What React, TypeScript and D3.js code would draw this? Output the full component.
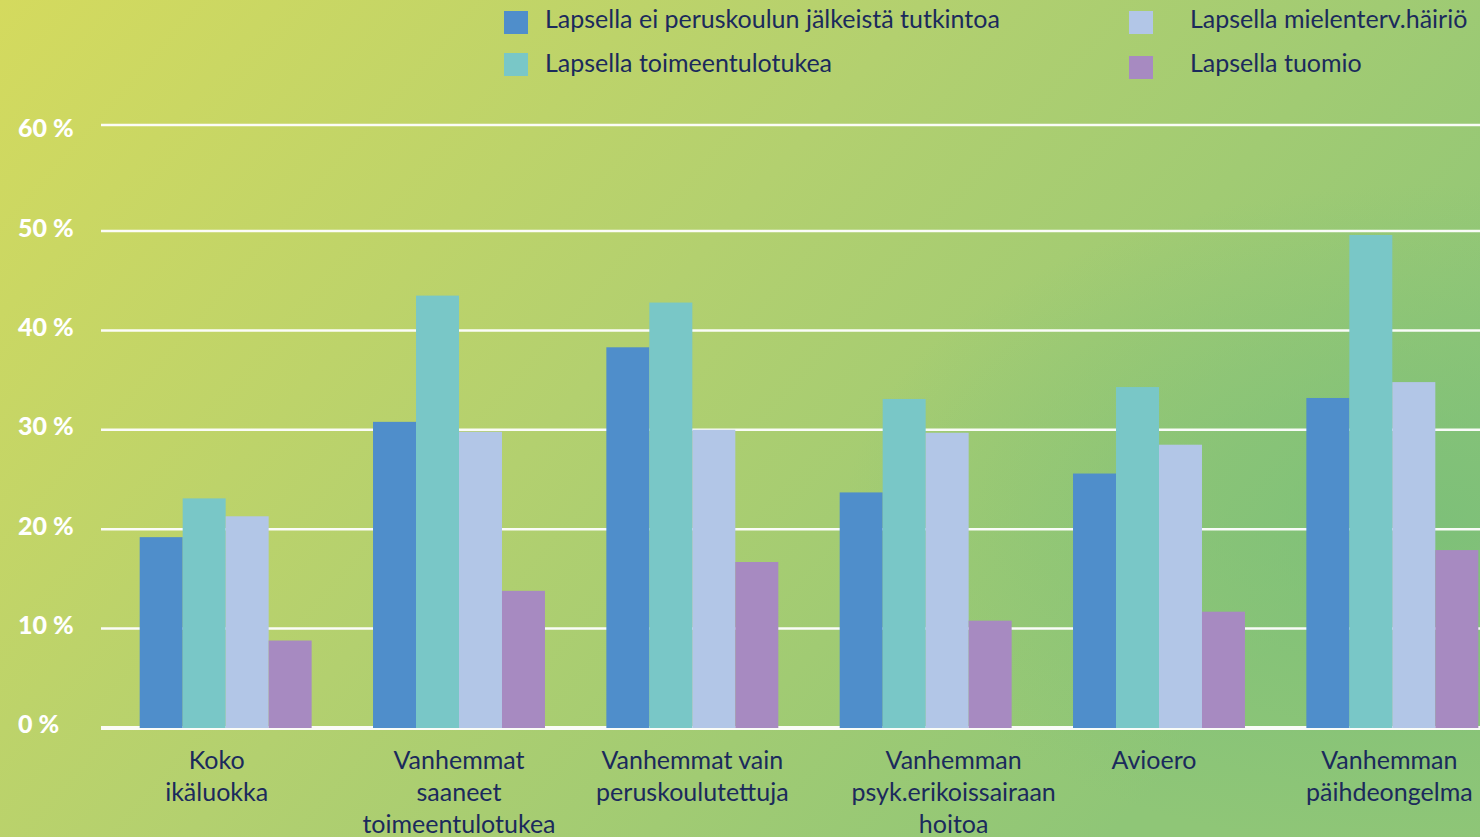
import * as d3 from "d3";

const categories = [
  ["Koko", "ikäluokka"],
  ["Vanhemmat", "saaneet", "toimeentulotukea"],
  ["Vanhemmat vain", "peruskoulutettuja"],
  ["Vanhemman", "psyk.erikoissairaan", "hoitoa"],
  ["Avioero"],
  ["Vanhemman", "päihdeongelma"],
];

const seriesNames = [
  "Lapsella ei peruskoulun jälkeistä tutkintoa",
  "Lapsella toimeentulotukea",
  "Lapsella mielenterv.häiriö",
  "Lapsella tuomio",
];

const eiTutkintoa = [19.2, 30.8, 38.3, 23.7, 25.6, 33.2];
const toimeentulotukea = [23.1, 43.5, 42.8, 33.1, 34.3, 49.6];
const mielenterv = [21.3, 29.8, 30.0, 29.7, 28.5, 34.8];
const tuomio = [8.8, 13.8, 16.7, 10.8, 11.7, 17.9];

const yTicks = [0, 10, 20, 30, 40, 50, 60];

const W = 1480;
const H = 837;
const colors = ["#4f8ecb", "#79c7c7", "#b2c6e7", "#a78ac1"];
const navy = "#1b2a5c";
const font = "Lato, sans-serif";
// label nudges so the wrapped texts sit like in the original
const labelShift = [-9, 0, 0, 28, -5, -3];

export default function App() {
  const series = [eiTutkintoa, toimeentulotukea, mielenterv, tuomio];
  const keys = categories.map((c) => c.join(" "));

  const x = d3.scaleBand<string>().domain(keys).range([109, 1509]).paddingInner(0.263).paddingOuter(0.1315);
  const xs = d3.scaleBand<number>().domain(d3.range(series.length)).range([0, x.bandwidth()]);
  const y = d3.scaleLinear().domain([0, 50, 60]).range([728, 231, 125]);
  // tick labels in the original are evenly spaced, unlike the gridlines
  const yLabel = d3.scaleLinear().domain([0, 60]).range([726, 130]);

  return (
    <svg width={W} height={H} style={{ position: "absolute", left: 0, top: 0, display: "block" }}>
      <defs>
        <linearGradient id="bg" x1="0" y1="0" x2="1" y2="0.5">
          <stop offset="0" stopColor="#d4da5e" />
          <stop offset="0.5" stopColor="#b3d06f" />
          <stop offset="1" stopColor="#8fc677" />
        </linearGradient>
        <radialGradient id="blob" cx="0.97" cy="0.62" r="0.4">
          <stop offset="0" stopColor="#7bbf79" stopOpacity="0.85" />
          <stop offset="1" stopColor="#7bbf79" stopOpacity="0" />
        </radialGradient>
      </defs>
      <rect width={W} height={H} fill="url(#bg)" />
      <rect width={W} height={H} fill="url(#blob)" />

      {yTicks.map((t) => (
        <g key={t}>
          <line x1={101} x2={W} y1={y(t)} y2={y(t)} stroke="#fff" strokeWidth={t === 0 ? 4 : 2.5} opacity={0.95} />
          <text x={18} y={yLabel(t) + 1} dominantBaseline="middle" fill="#fff" fontFamily={font}
            fontWeight={900} fontSize={25}>{`${t} %`}</text>
        </g>
      ))}

      {keys.map((k, i) => (
        <g key={k} transform={`translate(${x(k)},0)`}>
          {series.map((s, j) => (
            <rect key={j} x={xs(j)} y={y(s[i])} width={xs.bandwidth()} height={y(0) - y(s[i])} fill={colors[j]} />
          ))}
        </g>
      ))}

      {keys.map((k, i) => (
        <text key={k} textAnchor="middle" fill={navy} fontFamily={font} fontSize={25}>
          {categories[i].map((line, li) => (
            <tspan key={li} x={(x(k) ?? 0) + x.bandwidth() / 2 + labelShift[i]} y={769 + li * 32}>{line}</tspan>
          ))}
        </text>
      ))}

      {seriesNames.map((name, j) => {
        const first = j < 2;
        const lx = first ? 504 : 1129;
        const ly = j % 2 === 0 ? 11 : (first ? 53 : 56);
        const tx = first ? 545 : 1190;
        return (
          <g key={name}>
            <rect x={lx} y={ly} width={24} height={23} fill={colors[j]} />
            <text x={tx} y={j % 2 === 0 ? 28 : 72} fill={navy} fontFamily={font} fontSize={25}>{name}</text>
          </g>
        );
      })}
    </svg>
  );
}
